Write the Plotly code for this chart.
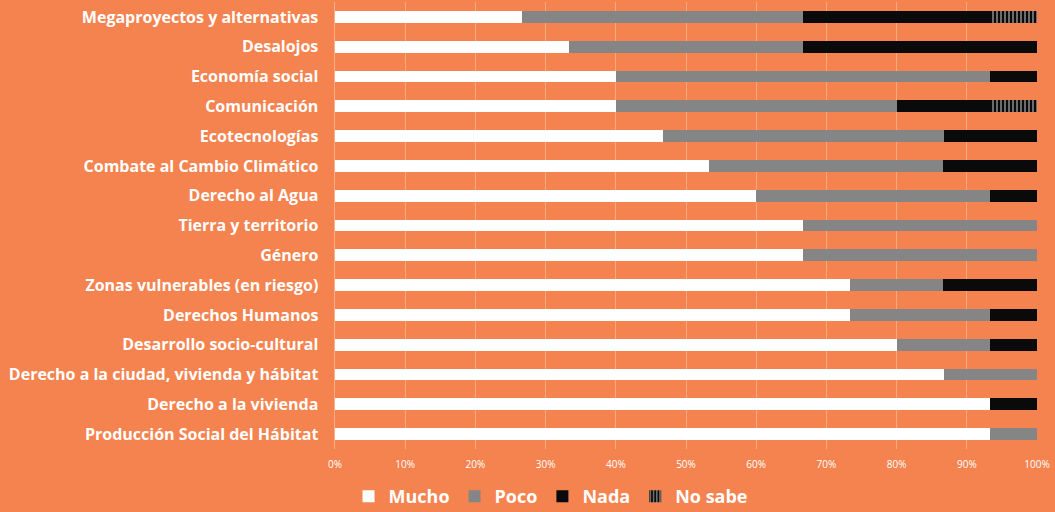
import plotly.graph_objects as go

categories = [
    "Megaproyectos y alternativas",
    "Desalojos",
    "Economía social",
    "Comunicación",
    "Ecotecnologías",
    "Combate al Cambio Climático",
    "Derecho al Agua",
    "Tierra y territorio",
    "Género",
    "Zonas vulnerables (en riesgo)",
    "Derechos Humanos",
    "Desarrollo socio-cultural",
    "Derecho a la ciudad, vivienda y hábitat",
    "Derecho a la vivienda",
    "Producción Social del Hábitat",
]
mucho =   [26.7, 33.3, 40.0, 40.0, 46.7, 53.3, 60.0, 66.7, 66.7, 73.3, 73.3, 80.0, 86.7, 93.3, 93.3]
poco =    [40.0, 33.3, 53.3, 40.0, 40.0, 33.3, 33.3, 33.3, 33.3, 13.3, 20.0, 13.3, 13.3, 0.0, 6.7]
nada =    [26.7, 33.4, 6.7, 13.3, 13.3, 13.4, 6.7, 0.0, 0.0, 13.4, 6.7, 6.7, 0.0, 6.7, 0.0]
no_sabe = [6.6, 0.0, 0.0, 6.7, 0.0, 0.0, 0.0, 0.0, 0.0, 0.0, 0.0, 0.0, 0.0, 0.0, 0.0]
tick_vals = [0, 10, 20, 30, 40, 50, 60, 70, 80, 90, 100]
tick_text = [f"{v}%" for v in tick_vals]

BG = "#F5834F"
fig = go.Figure()
fig.add_trace(go.Bar(y=categories, x=mucho, name="Mucho", orientation="h",
                     marker=dict(color="white", line=dict(width=0))))
fig.add_trace(go.Bar(y=categories, x=poco, name="Poco", orientation="h",
                     marker=dict(color="#858585", line=dict(width=0))))
fig.add_trace(go.Bar(y=categories, x=nada, name="Nada", orientation="h",
                     marker=dict(color="#0a0a0a", line=dict(width=0))))
fig.add_trace(go.Bar(y=categories, x=no_sabe, name="No sabe", orientation="h",
                     marker=dict(color="#0a0a0a", line=dict(width=0),
                                 pattern=dict(shape="|", fgcolor="white", bgcolor="#0a0a0a",
                                              size=4, solidity=0.4, fillmode="overlay"))))

fig.update_layout(
    barmode="stack",
    bargap=0.6,
    width=1055, height=512,
    paper_bgcolor=BG, plot_bgcolor=BG,
    margin=dict(l=335, r=18, t=2, b=63, autoexpand=False),
    font=dict(family="'Open Sans', sans-serif", color="white"),
    xaxis=dict(range=[0, 100], tickvals=tick_vals, ticktext=tick_text,
               showgrid=True, gridcolor="rgba(255,205,175,0.5)", gridwidth=1,
               zeroline=False, showline=False, ticklabelstandoff=8, automargin=False,
               tickfont=dict(size=10, color="white", family="'Open Sans'"), ticks=""),
    yaxis=dict(categoryorder="array", categoryarray=categories[::-1], automargin=False,
               tickfont=dict(size=16, color="white", family="'Open Sans'", weight="bold"),
               showgrid=False, ticks="", ticksuffix="   ", showline=True,
               linecolor="rgba(255,205,175,0.6)", linewidth=1),
    legend=dict(orientation="h", x=0.307, xanchor="center",
                yref="container", y=0.03, yanchor="middle",
                font=dict(size=18, color="white", family="'Open Sans'", weight="bold"),
                bgcolor="rgba(0,0,0,0)", traceorder="normal", itemwidth=30),
    showlegend=True,
)
fig.write_html("out.html", config={"displayModeBar": False},
               post_script="document.body.style.margin='0';")
